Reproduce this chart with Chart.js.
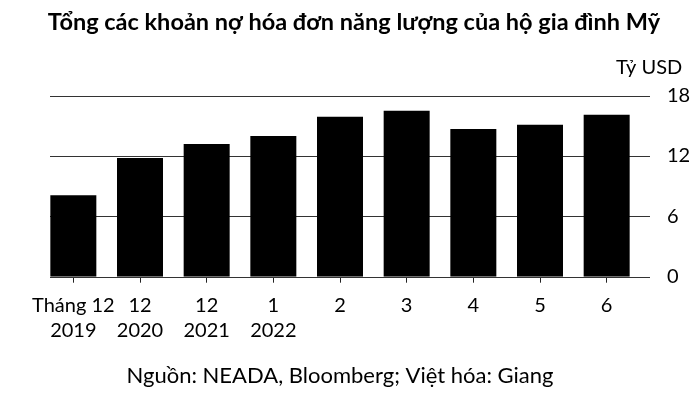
<!DOCTYPE html>
<html>
<head>
<meta charset="utf-8">
<script src="https://cdn.jsdelivr.net/npm/chart.js@4"></script>
<style>
    body { margin: 0; background: #fff; }
    #debtChart { display: block; }
</style>
</head>
<body>
<canvas id="debtChart" width="696" height="394"></canvas>
<script>
// Chart data
const monthLabels = [
    ['Tháng 12', '2019'],
    ['12', '2020'],
    ['12', '2021'],
    ['1', '2022'],
    '2', '3', '4', '5', '6'
];
const debtValues = [8.1, 11.8, 13.2, 14.0, 15.9, 16.5, 14.7, 15.1, 16.1]; // tỷ USD
const yTicks = [0, 6, 12, 18];

const titleText = 'Tổng các khoản nợ hóa đơn năng lượng của hộ gia đình Mỹ';
const unitText = 'Tỷ USD';
const sourceText = 'Nguồn: NEADA, Bloomberg; Việt hóa: Giang';

const fontFamily = 'Lato, "Liberation Sans", sans-serif';

// horizontal gridlines sit a bit to the right of the bars in the original,
// and the unit label is right-aligned with the y tick labels
const gridAndUnit = {
    id: 'gridAndUnit',
    beforeDatasetsDraw(chart) {
        const { ctx, chartArea, scales } = chart;
        ctx.save();
        ctx.strokeStyle = '#333';
        ctx.lineWidth = 1;
        scales.y.ticks.forEach(tick => {
            const y = Math.round(scales.y.getPixelForValue(tick.value)) + 0.5;
            ctx.beginPath();
            ctx.moveTo(chartArea.left + 10, y);
            ctx.lineTo(chartArea.right + 10, y);
            ctx.stroke();
        });
        ctx.restore();
    },
    afterDraw(chart) {
        const { ctx, chartArea, scales } = chart;
        const yScale = scales.y;
        ctx.save();
        ctx.font = '20px ' + fontFamily;
        const widest = Math.max(...yTicks.map(v => ctx.measureText(String(v)).width));
        ctx.fillStyle = '#000';
        ctx.textAlign = 'right';
        ctx.textBaseline = 'middle';
        ctx.fillText(unitText, yScale.left + yScale.options.ticks.padding + widest, chartArea.top - 28);
        ctx.restore();
    }
};

const ctx = document.getElementById('debtChart').getContext('2d');
const debtChart = new Chart(ctx, {
    type: 'bar',
    data: {
        labels: monthLabels,
        datasets: [{
            label: 'Nợ hóa đơn năng lượng',
            data: debtValues,
            backgroundColor: '#000',
            borderWidth: 0,
            barPercentage: 0.69,
            categoryPercentage: 1
        }]
    },
    options: {
        responsive: false,
        animation: false,
        layout: {
            padding: { top: 0, right: 0, bottom: 0, left: 12 }
        },
        plugins: {
            legend: { display: false },
            tooltip: { enabled: false },
            title: {
                display: true,
                text: titleText,
                color: '#000',
                font: { family: fontFamily, size: 23.5, weight: 'bold', lineHeight: 1.2 },
                padding: { top: 7.9, bottom: 59.6 }
            }
        },
        scales: {
            x: {
                grid: {
                    display: true,
                    drawOnChartArea: false,
                    drawTicks: true,
                    tickLength: 6,
                    offset: false,
                    color: '#222'
                },
                border: { display: false },
                ticks: {
                    color: '#000',
                    autoSkip: false,
                    maxRotation: 0,
                    padding: 10.8,
                    font: { family: fontFamily, size: 20, lineHeight: 1.25 }
                },
                title: {
                    display: true,
                    text: sourceText,
                    color: '#000',
                    font: { family: fontFamily, size: 22, lineHeight: 1.2 },
                    padding: { top: 8.5, bottom: 4.8 }
                },
                afterFit: function (scale) {
                    scale.paddingLeft = 40;
                }
            },
            y: {
                position: 'right',
                min: 0,
                max: 18,
                grid: { display: false },
                border: { display: false },
                afterBuildTicks: function (scale) {
                    scale.ticks = yTicks.map(v => ({ value: v }));
                },
                ticks: {
                    color: '#000',
                    padding: 19,
                    font: { family: fontFamily, size: 20 }
                },
                afterFit: function (scale) {
                    scale.width = 56;
                }
            }
        }
    },
    plugins: [gridAndUnit]
});
</script>
</body>
</html>
